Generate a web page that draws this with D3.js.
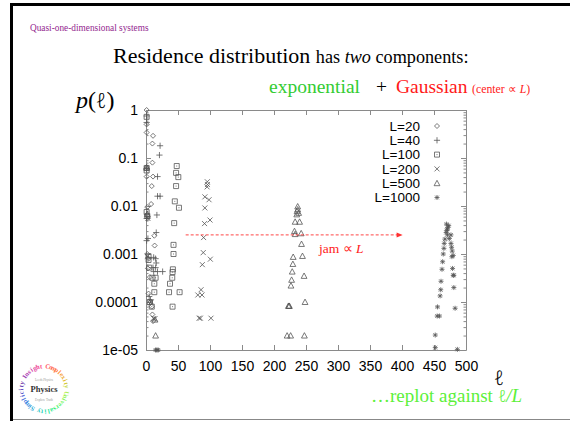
<!DOCTYPE html>
<html>
<head>
<meta charset="utf-8">
<script src="https://cdn.jsdelivr.net/npm/d3@7"></script>
<style>
  html, body { margin: 0; padding: 0; background: #fff; }
  svg { display: block; }
</style>
</head>
<body>
<svg id="slide" width="570" height="424"></svg>
<script>
// ---- data -------------------------------------------------------------
const xTicks = [0, 50, 100, 150, 200, 250, 300, 350, 400, 450, 500];
const yTicks = [1, 0.1, 0.01, 0.001, 0.0001, 0.00001];
const yTickLabels = ["1", "0.1", "0.01", "0.001", "0.0001", "1e-05"];
const legendLabels = ["L=20", "L=40", "L=100", "L=200", "L=500", "L=1000"];
const legendSymbols = ["diamond", "plus", "square", "cross", "triangle", "star"];

// residence length ℓ and probability p(ℓ) for each system size
const l20 = [[1,1],[1,0.5],[1,0.34],[11,0.29],[10,0.2],[10,0.08],[1,0.065],[1,0.041],[11,0.041],
  [9,0.026],[8,0.011],[2,0.0095],[2,0.0065],[3,0.0056],[13,0.0024],[13.5,0.0015],[2,0.001],
  [4,0.0008],[3,0.0005],[6,0.00033],[4,0.00015],[7,0.0001],[9,0.00008],[10,0.000055],[11,0.00004]];
const l40 = [[1,0.75],[1,0.55],[22,0.18],[21,0.115],[1,0.06],[18,0.041],[18,0.016],[22,0.016],
  [17,0.0065],[1,0.0055],[16,0.0028],[3,0.0021],[1,0.0019],[12,0.00085],[15,0.0008],[16,0.00065],
  [11,0.00052],[15,0.00052],[12,0.00043],[18,0.00043],[26,0.00043],[5,0.00013],[7,0.00011]];
const l100 = [[1,0.72],[1,0.062],[1,0.055],[48,0.068],[47,0.049],[50.5,0.04],[47,0.026],[45,0.0125],
  [51.5,0.0092],[44,0.0044],[43,0.00155],[43,0.001],[42,0.00048],[41.5,0.00042],[41,0.00032],
  [37.5,0.00024],[36,0.00016],[52.5,0.00016],[41.5,0.00008],[1,0.0075],[2,0.0062],[4,0.0009],
  [4,0.00075],[5,0.00052],[10,0.00032],[15,0.00032],[13,0.00024],[13,0.00016],[6,0.0001],[9,0.00008]];
const l200 = [[95.8,0.032],[96,0.028],[95.5,0.025],[92,0.0155],[98.5,0.0135],[92,0.0091],[91.5,0.0043],
  [100,0.0051],[90,0.0022],[89.5,0.00107],[100.5,0.00078],[88,0.0006],[86,0.00018],[81,0.00014],
  [87.5,0.00014],[85,0.000046],[83,0.000046],[101.5,0.000046],[3,0.0055],[2,0.0009],[8,0.0001],
  [12,0.000045],[14,0.000045]];
const l500 = [[237,0.0098],[237,0.0085],[236,0.0078],[238.5,0.0072],[235.5,0.0067],[233,0.0047],
  [240,0.0047],[232,0.003],[233,0.0026],[242.5,0.0027],[243,0.00162],[244.5,0.00091],[230,0.00087],
  [229.5,0.00062],[228.5,0.00043],[247,0.00035],[227.5,0.00029],[226.5,0.00022],[248.5,0.0001],
  [223.5,0.000083],[222.5,0.000083],[224,0.000083],[220.5,0.00002],[226,0.00002],[247.5,0.00002],
  [1,0.063],[2,0.0068],[14,0.000043],[15,0.00002]];
const l1000 = [[469.5,0.0042],[473,0.0039],[471.5,0.0036],[471,0.0033],[470,0.0031],[469,0.0028],
  [471,0.0025],[476.5,0.0025],[474,0.0021],[467,0.00204],[476.5,0.00166],[466,0.00166],[477.5,0.00138],
  [465.5,0.00131],[478.5,0.00115],[464.5,0.001],[480,0.00093],[478,0.00088],[463.5,0.00069],
  [479,0.0005],[462.5,0.00048],[480,0.00036],[481,0.00036],[461,0.00027],[481,0.0002],[460.5,0.00018],
  [459.5,0.000134],[483,0.000074],[455.5,0.000079],[455,0.000051],[458.5,0.000051],[452,0.0000205],
  [452,0.0000112],[486.5,0.0000103],[15,0.00001],[17,0.00001],[19,0.00001]];
const seriesData = [l20, l40, l100, l200, l500, l1000];

// jam displacement arrow (ℓ from, ℓ to, height)
const jamArrow = [[62, 0.0025], [401, 0.0025]];

// words around the logo ring
const logoWords = ["Simplicity", "Insight", "Complexity", "Universality"];

// ---- layout -----------------------------------------------------------
const svg = d3.select("#slide");
const x = d3.scaleLinear().domain([0, 500]).range([146, 466]);
const y = d3.scaleLog().domain([1e-5, 1]).range([350, 110]);

const sansFont = "'Liberation Sans', Arial, Helvetica, sans-serif";
const serifFont = "'Liberation Serif', 'Times New Roman', Times, serif";
const ellFont = "'Noto Sans', 'DejaVu Sans', sans-serif";

// a thin script ell in a light italic face
function ell(sel, size) {
  return sel.attr("font-family", ellFont).attr("font-weight", 300).attr("font-style", "italic")
    .attr("font-size", size).text("ℓ");
}

// slide frame
svg.append("rect").attr("x", 0).attr("y", 0).attr("width", 570).attr("height", 424).attr("fill", "#fff");
svg.append("line").attr("x1", 10).attr("x2", 570).attr("y1", 4.5).attr("y2", 4.5)
  .attr("stroke", "#000").attr("stroke-width", 3);
svg.append("line").attr("x1", 11.5).attr("x2", 11.5).attr("y1", 3).attr("y2", 421)
  .attr("stroke", "#000").attr("stroke-width", 3);
svg.append("line").attr("x1", 13).attr("x2", 570).attr("y1", 419.5).attr("y2", 419.5)
  .attr("stroke", "#888").attr("stroke-width", 1);

// headings
svg.append("text").attr("x", 30).attr("y", 31)
  .attr("font-family", serifFont).attr("font-size", 9.3).attr("fill", "#93278f")
  .text("Quasi-one-dimensional systems");

const title = svg.append("text").attr("x", 113).attr("y", 63)
  .attr("font-family", serifFont).attr("fill", "#000");
title.append("tspan").attr("font-size", 22).text("Residence distribution ");
title.append("tspan").attr("font-size", 18.2).text("has ");
title.append("tspan").attr("font-size", 18.2).attr("font-style", "italic").text("two");
title.append("tspan").attr("font-size", 18.2).text(" components:");

svg.append("text").attr("x", 269).attr("y", 93)
  .attr("font-family", serifFont).attr("font-size", 19.5).attr("fill", "#33cc33").text("exponential");
svg.append("text").attr("x", 376).attr("y", 93)
  .attr("font-family", serifFont).attr("font-size", 19.5).attr("fill", "#000").text("+");
svg.append("text").attr("x", 396).attr("y", 93)
  .attr("font-family", serifFont).attr("font-size", 19.5).attr("fill", "#ff1a1a").text("Gaussian");
const centre = svg.append("text").attr("x", 472).attr("y", 93)
  .attr("font-family", serifFont).attr("font-size", 11.8).attr("fill", "#ff1a1a");
centre.append("tspan").text("(center ∝ ");
centre.append("tspan").attr("font-style", "italic").text("L");
centre.append("tspan").text(")");

// axis titles
const yTitle = svg.append("text").attr("x", 76).attr("y", 108)
  .attr("font-family", serifFont).attr("font-size", 24).attr("fill", "#000");
yTitle.append("tspan").attr("font-style", "italic").text("p");
yTitle.append("tspan").text("(");
yTitle.append("tspan").call(ell, 21);
yTitle.append("tspan").text(")");

svg.append("text").attr("x", 494).attr("y", 385).attr("fill", "#000").call(ell, 20);

// ---- axes -------------------------------------------------------------
const axisColor = "#8a8a8a";
const minorTicks = [];
for (let e = -5; e < 0; e++) for (let m = 2; m <= 9; m++) minorTicks.push(m * Math.pow(10, e));

function styleAxis(g) {
  g.select(".domain").attr("stroke", axisColor).attr("stroke-width", 1);
  g.selectAll(".tick line").attr("stroke", axisColor).attr("stroke-width", 1);
  g.selectAll(".tick text").attr("fill", "#000").attr("font-family", sansFont).attr("font-size", 14);
}

svg.append("g").attr("transform", "translate(0,350)")
  .call(d3.axisBottom(x).tickValues(xTicks).tickFormat(d3.format("d")).tickSizeInner(-5).tickSizeOuter(0).tickPadding(11))
  .call(styleAxis);
svg.append("g").attr("transform", "translate(0,110)")
  .call(d3.axisTop(x).tickValues(xTicks).tickFormat("").tickSizeInner(-5).tickSizeOuter(0))
  .call(styleAxis);
svg.append("g").attr("transform", "translate(146,0)")
  .call(d3.axisLeft(y).tickValues(yTicks).tickFormat((d, i) => yTickLabels[i]).tickSizeInner(-5).tickSizeOuter(0).tickPadding(8))
  .call(styleAxis);
svg.append("g").attr("transform", "translate(466,0)")
  .call(d3.axisRight(y).tickValues(yTicks).tickFormat("").tickSizeInner(-5).tickSizeOuter(0))
  .call(styleAxis);
// minor log ticks
svg.append("g").attr("transform", "translate(146,0)")
  .call(d3.axisLeft(y).tickValues(minorTicks).tickFormat("").tickSizeInner(-2.5).tickSizeOuter(0))
  .call(styleAxis).select(".domain").remove();
svg.append("g").attr("transform", "translate(466,0)")
  .call(d3.axisRight(y).tickValues(minorTicks).tickFormat("").tickSizeInner(-2.5).tickSizeOuter(0))
  .call(styleAxis).select(".domain").remove();

// ---- point symbols ----------------------------------------------------
function symbolPath(type) {
  const r = 2.5;
  switch (type) {
    case "diamond": return `M0,${-r}L${r},0L0,${r}L${-r},0Z`;
    case "plus": return `M${-r - 0.6},0H${r + 0.6}M0,${-r - 0.6}V${r + 0.6}`;
    case "square": return `M${-r},${-r}H${r}V${r}H${-r}ZM-0.5,0H0.5`;
    case "cross": return `M${-r},${-r}L${r},${r}M${-r},${r}L${r},${-r}`;
    case "triangle": return `M0,${-r - 0.4}L${r + 0.4},${r}L${-r - 0.4},${r}Z`;
    case "star": {
      const s = r * 0.75;
      return `M${-r},0H${r}M0,${-r}V${r}M${-s},${-s}L${s},${s}M${-s},${s}L${s},${-s}`;
    }
  }
}

const plot = svg.append("g");
seriesData.forEach((pts, i) => {
  plot.append("g").selectAll("path").data(pts).join("path")
    .attr("transform", d => `translate(${x(d[0])},${y(d[1])})`)
    .attr("d", symbolPath(legendSymbols[i]))
    .attr("fill", "none").attr("stroke", "#555").attr("stroke-width", 0.8);
});

// legend
const legend = svg.append("g");
legendLabels.forEach((lab, i) => {
  const yy = 126 + i * 14.3;
  legend.append("text").attr("x", 420).attr("y", yy).attr("dy", "0.35em")
    .attr("text-anchor", "end").attr("font-family", sansFont).attr("font-size", 13.5)
    .attr("fill", "#000").text(lab);
  legend.append("path").attr("transform", `translate(437,${yy})`)
    .attr("d", symbolPath(legendSymbols[i]))
    .attr("fill", "none").attr("stroke", "#555").attr("stroke-width", 0.8);
});

// jam arrow
const ax0 = x(jamArrow[0][0]), ax1 = x(jamArrow[1][0]), ay = y(jamArrow[0][1]);
svg.append("line").attr("x1", ax0).attr("x2", ax1 - 4).attr("y1", ay).attr("y2", ay)
  .attr("stroke", "#ff3030").attr("stroke-width", 0.9).attr("stroke-dasharray", "3,2");
svg.append("path").attr("d", `M${ax1},${ay}L${ax1 - 6},${ay - 2.5}L${ax1 - 6},${ay + 2.5}Z`)
  .attr("fill", "#ff3030");
const jam = svg.append("text").attr("x", 319).attr("y", 253)
  .attr("font-family", serifFont).attr("font-size", 13.5).attr("fill", "#ff1a1a");
jam.append("tspan").text("jam ∝ ");
jam.append("tspan").attr("font-style", "italic").text("L");

// bottom note
const note = svg.append("text").attr("x", 371).attr("y", 402)
  .attr("font-family", serifFont).attr("font-size", 19).attr("fill", "#5cf03a");
note.append("tspan").text("…replot against ");
note.append("tspan").call(ell, 17);
note.append("tspan").attr("font-style", "italic").text("/L");

// ---- logo ---------------------------------------------------------------
const logo = svg.append("g").attr("transform", "translate(44,389)");
const ringR = 23;
const ringChars = Array.from(logoWords.join(" ") + " ");
const step = 360 / ringChars.length;
ringChars.forEach((ch, i) => {
  if (ch === " ") return;
  const a = -150 + i * step;            // degrees, clockwise from the top
  const rad = (a - 90) * Math.PI / 180;
  logo.append("text")
    .attr("transform", `translate(${ringR * Math.cos(rad)},${ringR * Math.sin(rad)}) rotate(${a})`)
    .attr("text-anchor", "middle").attr("dy", "0.35em")
    .attr("font-family", serifFont).attr("font-size", 6.6).attr("font-weight", "bold")
    .attr("fill", d3.interpolateRainbow((i / ringChars.length + 0.8) % 1))
    .text(ch);
});
logo.append("text").attr("y", 3).attr("text-anchor", "middle")
  .attr("font-family", serifFont).attr("font-size", 8.5).attr("font-weight", "bold")
  .attr("fill", "#333").text("Physics");
logo.append("text").attr("y", -8).attr("text-anchor", "middle")
  .attr("font-family", serifFont).attr("font-size", 3.2).attr("fill", "#999").text("Leeds Physics");
logo.append("text").attr("y", 12).attr("text-anchor", "middle")
  .attr("font-family", serifFont).attr("font-size", 3.2).attr("fill", "#999").text("Explore Truth");
</script>
</body>
</html>
